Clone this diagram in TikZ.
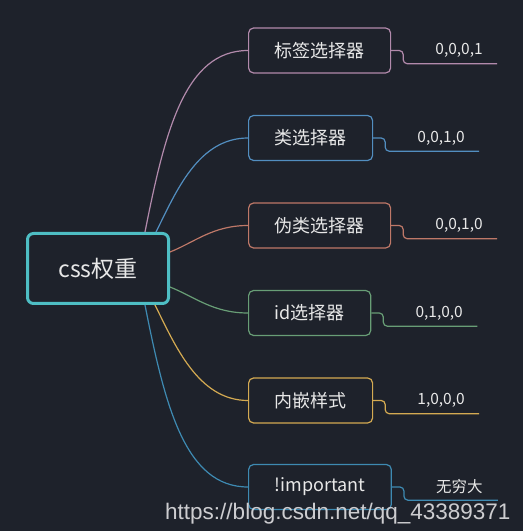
\documentclass[tikz,border=0pt]{standalone}
\usepackage{fontspec}
\setmainfont{Noto Sans CJK SC}
\newfontfamily\urlfont{Liberation Sans}
\usetikzlibrary{positioning}

\definecolor{bgdark}{RGB}{30,34,43}
\definecolor{rootcol}{RGB}{78,190,196}
\definecolor{lilac}{RGB}{178,138,172}
\definecolor{skyblue}{RGB}{82,142,192}
\definecolor{salmon}{RGB}{190,120,104}
\definecolor{sage}{RGB}{104,158,118}
\definecolor{gold}{RGB}{212,170,82}
\definecolor{seablue}{RGB}{62,138,178}
\definecolor{fgtext}{RGB}{232,232,232}
\definecolor{wmgray}{RGB}{205,205,208}

\begin{document}
\begin{tikzpicture}[
  x=1pt, y=1pt,
  every node/.style={text=fgtext},
  root/.style={draw=rootcol, line width=3pt, rounded corners=6pt, minimum width=141pt, minimum height=70pt, font=\fontsize{23}{27}\selectfont},
  branch/.style={draw=#1, line width=1.2pt, rounded corners=5pt, minimum height=45pt, inner xsep=26pt, anchor=west, font=\fontsize{18}{22}\selectfont},
  leaf/.style={anchor=west, inner sep=0pt, minimum height=26pt, font=\fontsize{15.5}{18}\selectfont},
  link/.style={draw=#1, line width=1.2pt},
  underline/.style={draw=#1, line width=1.2pt, rounded corners=4pt}
]
\path[use as bounding box, fill=bgdark] (0,0) rectangle (523,531);

\node[root] (css) at (98,262.5) {css权重};

% branches
\node[branch=lilac]   (tag)   at (248,480.5) {标签选择器};
\node[branch=skyblue] (cls)   at (248,393)   {类选择器};
\node[branch=salmon]  (pseudo) at (248,305.5) {伪类选择器};
\node[branch=sage]    (id)    at (248,218)   {id选择器};
\node[branch=gold]    (inl)   at (248,130.5) {内嵌样式};
\node[branch=seablue] (imp)   at (248,44)    {!important};

% weights
\node[leaf, right=44pt of tag]    (wtag)    {0,0,0,1};
\node[leaf, right=44pt of cls]    (wcls)    {0,0,1,0};
\node[leaf, right=44pt of pseudo] (wpseudo) {0,0,1,0};
\node[leaf, right=44pt of id]     (wid)     {0,1,0,0};
\node[leaf, right=44pt of inl]    (winl)    {1,0,0,0};
\node[leaf, right=44pt of imp]    (wimp)    {无穷大};

% root to branches
\draw[link=lilac]   ([xshift=-25pt]css.north east) .. controls +(20,101) and +(-63,0) .. (tag.west);
\draw[link=skyblue] ([xshift=-14pt]css.north east) .. controls +(20,40) and +(-50,0) .. (cls.west);
\draw[link=salmon]  ([yshift=16.5pt]css.east) .. controls +(25,10) and +(-35,0) .. (pseudo.west);
\draw[link=sage]    ([yshift=-18.5pt]css.east) .. controls +(25,-10) and +(-35,0) .. (id.west);
\draw[link=gold]    ([xshift=-15pt]css.south east) .. controls +(20,-40) and +(-50,0) .. (inl.west);
\draw[link=seablue] ([xshift=-25pt]css.south east) .. controls +(20,-101) and +(-63,0) .. (imp.west);

% branches to weights
\draw[underline=lilac]   (tag.east) -- ++(12,0) |- ([xshift=-24pt]wtag.south west) -- ++(86,0);
\draw[underline=skyblue] (cls.east) -- ++(12,0) |- ([xshift=-24pt]wcls.south west) -- ++(86,0);
\draw[underline=salmon]  (pseudo.east) -- ++(12,0) |- ([xshift=-24pt]wpseudo.south west) -- ++(86,0);
\draw[underline=sage]    (id.east) -- ++(12,0) |- ([xshift=-24pt]wid.south west) -- ++(86,0);
\draw[underline=gold]    (inl.east) -- ++(12,0) |- ([xshift=-24pt]winl.south west) -- ++(86,0);
\draw[underline=seablue] (imp.east) -- ++(12,0) |- ([xshift=-24pt]wimp.south west) -- ++(86,0);

\node[anchor=base west, inner sep=0pt, text=wmgray, font=\urlfont\fontsize{22.5}{26}\selectfont] (wm) at (165,12) {https://blog.csdn.net/qq\_43389371};
\end{tikzpicture}
\end{document}
